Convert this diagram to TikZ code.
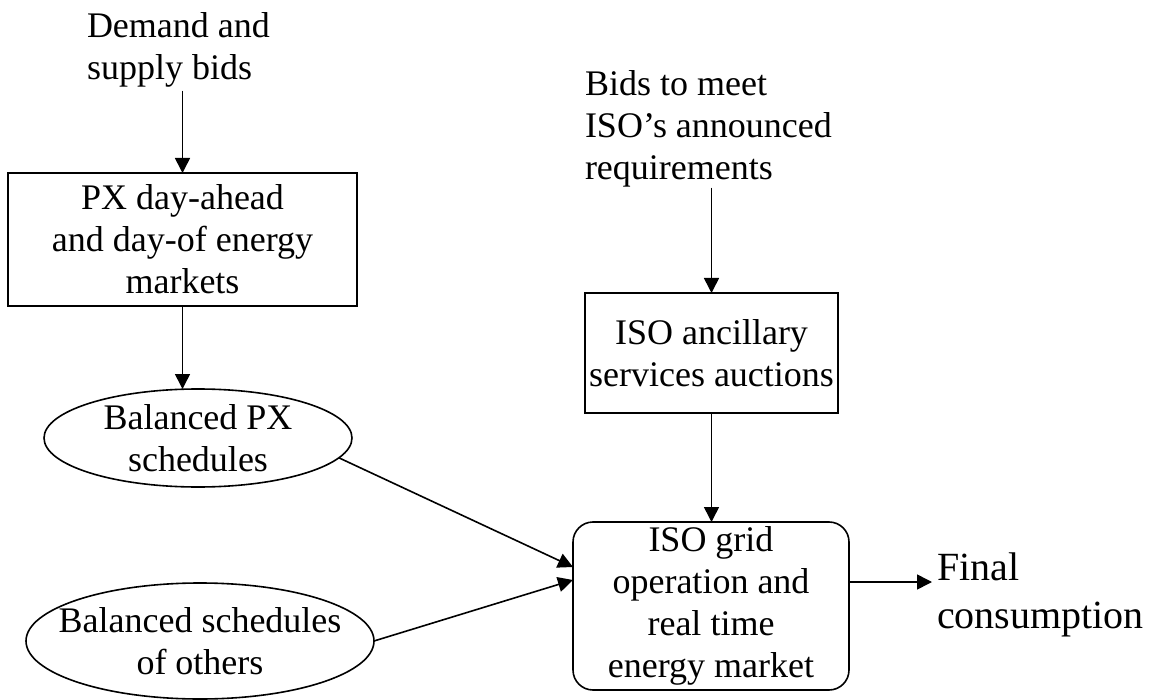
\documentclass[tikz,border=0pt]{standalone}
\usepackage{fontspec}
\setmainfont{Liberation Serif}
\usetikzlibrary{arrows.meta,shapes.geometric}

\begin{document}
\begin{tikzpicture}[x=0.5pt,y=-0.5pt,
      every node/.style={font=\fontsize{18}{21}\selectfont,inner sep=0pt,outer sep=0pt},
      market/.style={draw,rectangle,align=center,line width=0.8pt},
      schedule/.style={draw,ellipse,align=center,line width=0.8pt,inner xsep=-20pt,inner ysep=-5pt},
      bidtext/.style={anchor=north west,align=left},
      flow/.style={-{Triangle[length=7.5pt,width=7.5pt]},line width=0.8pt}
     ]
    \useasboundingbox (0,0) rectangle (1151,700);

    \node[bidtext] (demand) at (87,13) {Demand and\\supply bids};
    \node[market,minimum width=174.5pt,minimum height=66.5pt] (px) at (182.5,239.5)
      {PX day-ahead\\and day-of energy\\markets};
    \node[schedule,minimum width=154pt,minimum height=49pt] (pxsched) at (198,438)
      {Balanced PX\\schedules};
    \node[schedule,minimum width=174pt,minimum height=58pt] (others) at (200,641)
      {Balanced schedules\\of others};

    \node[bidtext] (bids) at (585,71) {Bids to meet\\ISO’s announced\\requirements};
    \node[market,minimum width=126.5pt,minimum height=60pt] (ancillary) at (711.5,353)
      {ISO ancillary\\services auctions};
    \node[market,rounded corners=10pt,minimum width=138pt,minimum height=84pt] (iso) at (711,606)
      {ISO grid\\operation and\\real time\\energy market};
    \node[bidtext,font=\fontsize{20}{24}\selectfont] (final) at (937,553) {Final\\consumption};

    \draw[flow] ([yshift=-1.5pt]px.north |- demand.south) -- (px.north);
    \draw[flow] (px.south) -- (px.south |- pxsched.north);
    \draw[flow] (ancillary.north |- bids.south) -- (ancillary.north);
    \draw[flow] (ancillary.south) -- (ancillary.south |- iso.north);
    \draw[flow] (pxsched.-8) -- ([yshift=19.5pt]iso.west);
    \draw[flow] (others.east) -- ([yshift=13pt]iso.west);
    \draw[flow,shorten >=2.5pt] ([yshift=12pt]iso.east) -- ([yshift=12pt]iso.east -| final.west);
\end{tikzpicture}
\end{document}
